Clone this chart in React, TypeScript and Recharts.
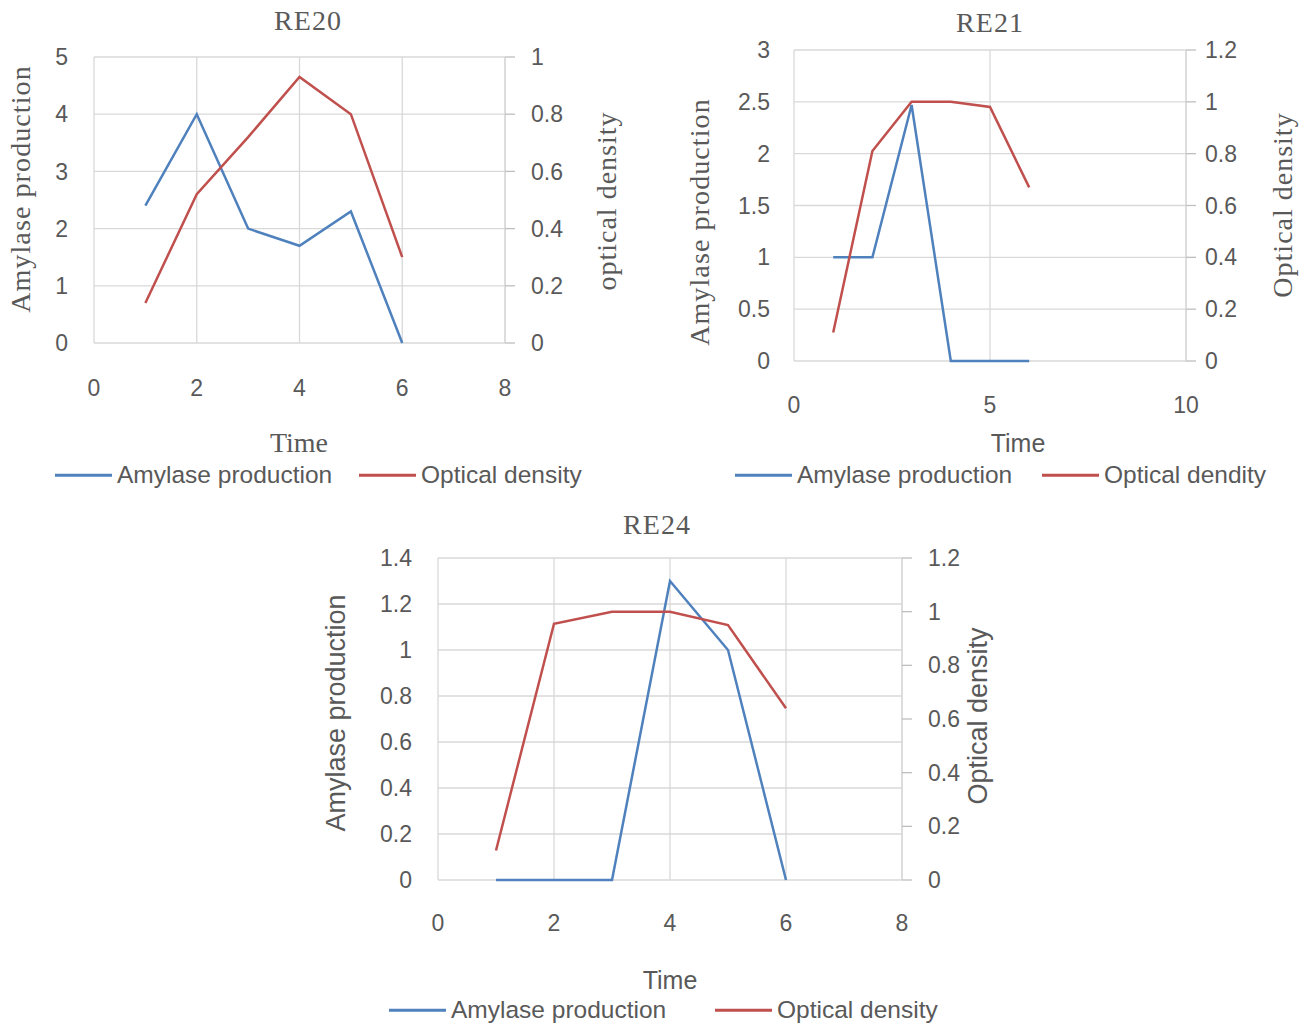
import React from 'react';
import { LineChart, Line, XAxis, YAxis, CartesianGrid } from 'recharts';

const SANS = '"Liberation Sans", Arial, sans-serif';
const SERIF = '"Liberation Serif", "Times New Roman", serif';
const BLUE = '#4f81bd';
const RED = '#c0504d';
const TEXT = '#595959';
const GRID = '#d9d9d9';

// time points shared by all three strains
const time = [1, 2, 3, 4, 5, 6];

const re20Amylase = [2.4, 4.0, 2.0, 1.7, 2.3, 0];
const re20Density = [0.14, 0.52, 0.72, 0.93, 0.8, 0.3];
const re20XTicks = [0, 2, 4, 6, 8];
const re20LeftTicks = [0, 1, 2, 3, 4, 5];
const re20RightTicks = [0, 0.2, 0.4, 0.6, 0.8, 1];

const re21Amylase = [1.0, 1.0, 2.47, 0, 0, 0];
const re21Density = [0.11, 0.81, 1.0, 1.0, 0.98, 0.67];
const re21XTicks = [0, 5, 10];
const re21LeftTicks = [0, 0.5, 1, 1.5, 2, 2.5, 3];
const re21RightTicks = [0, 0.2, 0.4, 0.6, 0.8, 1, 1.2];

const re24Amylase = [0, 0, 0, 1.3, 1.0, 0];
const re24Density = [0.11, 0.955, 1.0, 1.0, 0.95, 0.64];
const re24XTicks = [0, 2, 4, 6, 8];
const re24LeftTicks = [0, 0.2, 0.4, 0.6, 0.8, 1, 1.2, 1.4];
const re24RightTicks = [0, 0.2, 0.4, 0.6, 0.8, 1, 1.2];

const toRows = (amylase: number[], density: number[]) =>
  time.map((t, i) => ({ time: t, amylase: amylase[i], density: density[i] }));

type TextSpec = { text: string; x: number; y: number; font: string; size: number; spacing?: number; rotate?: boolean };

function Caption({ text, x, y, font, size, spacing = 0, rotate = false }: TextSpec) {
  return (
    <div
      style={{
        position: 'absolute',
        left: x,
        top: y,
        transform: `translate(-50%, -50%)${rotate ? ' rotate(-90deg)' : ''}`,
        fontFamily: font,
        fontSize: size,
        letterSpacing: spacing,
        color: TEXT,
        whiteSpace: 'nowrap',
        lineHeight: 1,
      }}
    >
      {text}
    </div>
  );
}

// legend entries: swatch start x for each series
function LegendRow({ xs, y, names }: { xs: number[]; y: number; names: string[] }) {
  const colors = [BLUE, RED];
  return (
    <>
      {names.map((n, i) => (
        <div
          key={n}
          style={{
            position: 'absolute',
            left: xs[i],
            top: y,
            transform: 'translateY(-50%)',
            display: 'flex',
            alignItems: 'center',
            fontFamily: SANS,
            fontSize: 24.5,
            color: TEXT,
            whiteSpace: 'nowrap',
            lineHeight: 1,
          }}
        >
          <span style={{ width: 57, height: 3, background: colors[i], marginRight: 5 }} />
          <span>{n}</span>
        </div>
      ))}
    </>
  );
}

interface PanelProps {
  left: number;
  top: number;
  width: number;
  height: number;
  plotTop: number;
  leftW: number;
  rightW: number;
  xAxisH: number;
  xMax: number;
  xTicks: number[];
  leftMax: number;
  leftTicks: number[];
  rightMax: number;
  rightTicks: number[];
  xMargin: number;
  leftMargin: number;
  rightMargin: number;
  amylase: number[];
  density: number[];
}

function Panel(p: PanelProps) {
  const data = toRows(p.amylase, p.density);
  const tick = { fill: TEXT, fontSize: 23, fontFamily: SANS };
  return (
    <div style={{ position: 'absolute', left: p.left, top: p.top }}>
      <LineChart
        width={p.width}
        height={p.height}
        data={data}
        margin={{ top: p.plotTop, right: 0, bottom: 0, left: 0 }}
      >
        <CartesianGrid stroke={GRID} strokeWidth={1.3} yAxisId="left" />
        <XAxis
          dataKey="time"
          type="number"
          domain={[0, p.xMax]}
          ticks={p.xTicks}
          height={p.xAxisH}
          axisLine={false}
          tickLine={false}
          tickMargin={p.xMargin}
          tick={tick}
        />
        <YAxis
          yAxisId="left"
          domain={[0, p.leftMax]}
          ticks={p.leftTicks}
          width={p.leftW}
          axisLine={false}
          tickLine={false}
          tickMargin={p.leftMargin}
          tick={tick}
        />
        <YAxis
          yAxisId="right"
          orientation="right"
          domain={[0, p.rightMax]}
          ticks={p.rightTicks}
          width={p.rightW}
          axisLine={{ stroke: GRID, strokeWidth: 1.3 }}
          tickLine={{ stroke: '#bfbfbf', strokeWidth: 1.3 }}
          tickSize={10}
          tickMargin={p.rightMargin}
          tick={tick}
        />
        <Line
          yAxisId="left"
          dataKey="amylase"
          type="linear"
          stroke={BLUE}
          strokeWidth={2.5}
          dot={false}
          isAnimationActive={false}
        />
        <Line
          yAxisId="right"
          dataKey="density"
          type="linear"
          stroke={RED}
          strokeWidth={2.5}
          dot={false}
          isAnimationActive={false}
        />
      </LineChart>
    </div>
  );
}

export default function App() {
  return (
    <div style={{ position: 'absolute', left: 0, top: 0, width: 1314, height: 1023, background: '#fff', overflow: 'hidden' }}>
      {/* RE20 */}
      <Panel
        left={0} top={0} width={650} height={420} plotTop={57}
        leftW={94} rightW={145} xAxisH={77}
        xMax={8} xTicks={re20XTicks} leftMax={5} leftTicks={re20LeftTicks}
        rightMax={1} rightTicks={re20RightTicks}
        xMargin={31} leftMargin={20} rightMargin={16}
        amylase={re20Amylase} density={re20Density}
      />
      <Caption text="RE20" x={308} y={21} font={SERIF} size={28} spacing={1} />
      <Caption text="Amylase production" x={21} y={189} font={SERIF} size={28} spacing={1.1} rotate />
      <Caption text="optical density" x={607} y={201} font={SERIF} size={28} spacing={1} rotate />
      <Caption text="Time" x={299} y={443} font={SERIF} size={28} />
      <LegendRow xs={[55, 359]} y={475} names={['Amylase production', 'Optical density']} />

      {/* RE21 */}
      <Panel
        left={650} top={0} width={664} height={420} plotTop={50}
        leftW={144} rightW={128} xAxisH={59}
        xMax={10} xTicks={re21XTicks} leftMax={3} leftTicks={re21LeftTicks}
        rightMax={1.2} rightTicks={re21RightTicks}
        xMargin={30} leftMargin={18} rightMargin={9}
        amylase={re21Amylase} density={re21Density}
      />
      <Caption text="RE21" x={990} y={23} font={SERIF} size={28} spacing={1} />
      <Caption text="Amylase production" x={700} y={222} font={SERIF} size={28} spacing={1.1} rotate />
      <Caption text="Optical density" x={1283} y={205} font={SERIF} size={28} spacing={1} rotate />
      <Caption text="Time" x={1018} y={443} font={SANS} size={25} />
      <LegendRow xs={[735, 1042]} y={475} names={['Amylase production', 'Optical dendity']} />

      {/* RE24 */}
      <Panel
        left={300} top={500} width={720} height={440} plotTop={58}
        leftW={138} rightW={118} xAxisH={60}
        xMax={8} xTicks={re24XTicks} leftMax={1.4} leftTicks={re24LeftTicks}
        rightMax={1.2} rightTicks={re24RightTicks}
        xMargin={29} leftMargin={20} rightMargin={16}
        amylase={re24Amylase} density={re24Density}
      />
      <Caption text="RE24" x={657} y={525} font={SERIF} size={28} spacing={1} />
      <Caption text="Amylase production" x={336} y={713} font={SANS} size={27} rotate />
      <Caption text="Optical density" x={978} y={716} font={SANS} size={27} rotate />
      <Caption text="Time" x={670} y={980} font={SANS} size={25} />
      <LegendRow xs={[389, 715]} y={1010} names={['Amylase production', 'Optical density']} />
    </div>
  );
}
